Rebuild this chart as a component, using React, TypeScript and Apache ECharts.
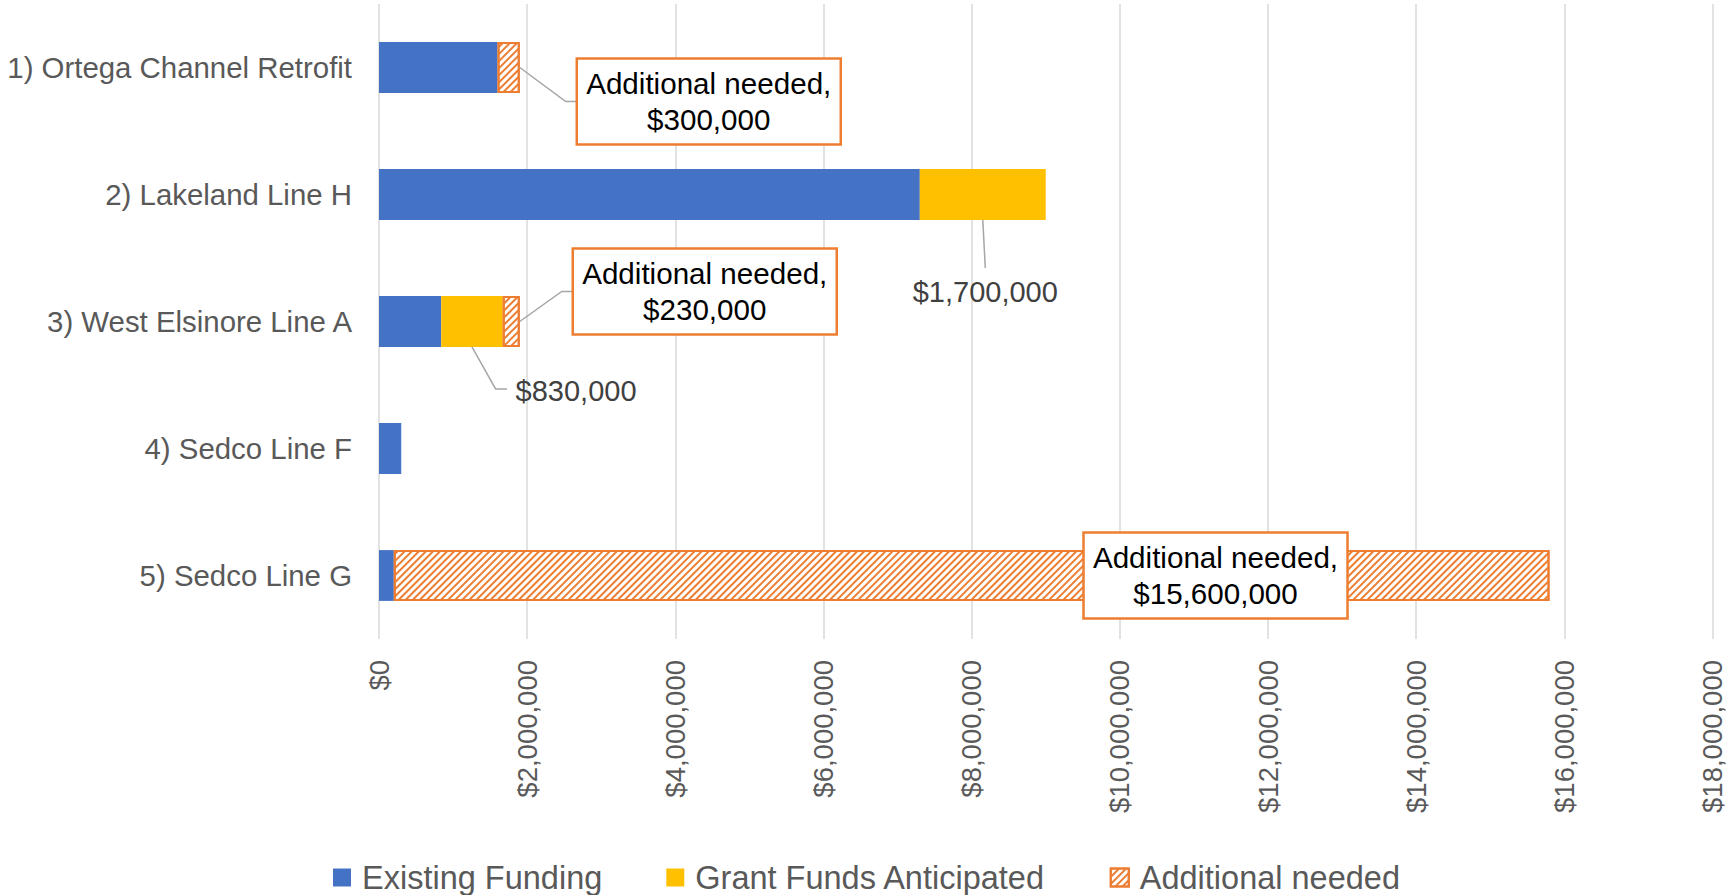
import React, { useEffect, useRef } from "react";
import * as echarts from "echarts";

const categories = [
  "1) Ortega Channel Retrofit",
  "2) Lakeland Line H",
  "3) West Elsinore Line A",
  "4) Sedco Line F",
  "5) Sedco Line G",
];
const existingFunding = [1600000, 7300000, 840000, 300000, 200000];
const grantFunds = [0, 1700000, 830000, 0, 0];
const additionalNeeded = [300000, 0, 230000, 0, 15600000];
const seriesNames = ["Existing Funding", "Grant Funds Anticipated", "Additional needed"];
const xMin = 0;
const xMax = 18000000;
const xInterval = 2000000;
const grantLabelRows = [1, 2];
const additionalLabelRows = [0, 2, 4];

// callout placement (pixel offsets from the anchor point on the bar)
const additionalCalloutLayout: Record<number, { dx: number; dy: number; leader: boolean }> = {
  0: { dx: 57, dy: 34, leader: true },
  2: { dx: 53, dy: -30, leader: true },
  4: { dx: -466, dy: 0, leader: false },
};
const grantCalloutLayout: Record<number, { ex: number; ey: number; hx: number; tx: number; ty: number; align: string }> = {
  1: { ex: 2.5, ey: 48, hx: 2.5, tx: 2.5, ty: 72, align: "center" },
  2: { ex: 23.6, ey: 42, hx: 35, tx: 43.6, ty: 44, align: "left" },
};

const FONT = "'Liberation Sans', Arial, sans-serif";
const BLUE = "#4472C4";
const YELLOW = "#FFC000";
const ORANGE = "#ED7D31";

const money = (v: number) => "$" + Math.round(v).toLocaleString("en-US");
const nz = (arr: number[]) => arr.map((v) => (v === 0 ? null : v));

export default function App() {
  const ref = useRef<HTMLDivElement>(null);
  useEffect(() => {
    document.body.style.margin = "0";
    if (!ref.current) return;
    const chart = echarts.init(ref.current, undefined, { renderer: "svg" });

    const calloutData: any[] = [];
    additionalLabelRows.forEach((r) => {
      calloutData.push({
        value: [existingFunding[r] + grantFunds[r] + additionalNeeded[r], r, additionalNeeded[r], 0],
      });
    });
    grantLabelRows.forEach((r) => {
      calloutData.push({
        value: [existingFunding[r] + grantFunds[r] / 2, r, grantFunds[r], 1],
      });
    });

    const option: any = {
      animation: false,
      textStyle: { fontFamily: FONT },
      grid: { left: 379, right: 20.5, top: 4, bottom: 256, containLabel: false },
      legend: {
        data: seriesNames,
        top: 856,
        left: "center",
        itemWidth: 18,
        itemHeight: 18,
        itemGap: 64,
        icon: "rect",
        selectedMode: false,
        textStyle: { fontSize: 32.5, color: "#595959", fontFamily: FONT, padding: [0, 0, 0, 6], lineHeight: 32 },
      },
      xAxis: {
        type: "value",
        min: xMin,
        max: xMax,
        interval: xInterval,
        axisLine: { show: false },
        axisTick: { show: false },
        splitLine: { show: true, lineStyle: { color: "#D9D9D9", width: 1.5 } },
        axisLabel: {
          rotate: 90,
          formatter: (v: number) => money(v),
          color: "#595959",
          fontSize: 27.5,
          fontFamily: FONT,
          margin: 21,
        },
      },
      yAxis: {
        type: "category",
        data: categories,
        inverse: true,
        axisLine: { show: false },
        axisTick: { show: false },
        axisLabel: { color: "#595959", fontSize: 29.4, fontFamily: FONT, margin: 27 },
      },
      series: [
        {
          name: seriesNames[0],
          type: "bar",
          stack: "total",
          barCategoryGap: "60%",
          itemStyle: { color: BLUE },
          data: nz(existingFunding),
        },
        {
          name: seriesNames[1],
          type: "bar",
          stack: "total",
          barCategoryGap: "60%",
          itemStyle: { color: YELLOW },
          data: nz(grantFunds),
        },
        {
          name: seriesNames[2],
          type: "bar",
          stack: "total",
          barCategoryGap: "60%",
          itemStyle: {
            color: "#FFFFFF",
            borderColor: ORANGE,
            borderWidth: 2,
            decal: {
              symbol: "rect",
              symbolSize: 1,
              dashArrayX: [1, 0],
              dashArrayY: [2, 3],
              rotation: -Math.PI / 4,
              color: ORANGE,
              backgroundColor: "#FFFFFF",
            },
          },
          data: nz(additionalNeeded),
        },
        {
          type: "custom",
          silent: true,
          z: 10,
          encode: { x: 0, y: 1 },
          data: calloutData,
          renderItem: (params: any, api: any) => {
            const xv = api.value(0);
            const row = api.value(1);
            const amount = api.value(2);
            const kind = api.value(3);
            const pt = api.coord([xv, row]);
            const band = api.size([0, 1])[1];
            const half = (band * 0.4) / 2;
            const children: any[] = [];
            if (kind === 0) {
              const L = additionalCalloutLayout[row];
              const bw = 264;
              const bh = 86;
              const bx = pt[0] + L.dx;
              const cy = pt[1] + L.dy;
              if (L.leader) {
                children.push({
                  type: "polyline",
                  shape: { points: [[pt[0], pt[1]], [bx - 11, cy], [bx, cy]] },
                  style: { stroke: "#A6A6A6", lineWidth: 1.5, fill: null },
                });
              }
              children.push({
                type: "rect",
                shape: { x: bx, y: cy - bh / 2, width: bw, height: bh },
                style: { fill: "#FFFFFF", stroke: ORANGE, lineWidth: 2.5 },
              });
              children.push({
                type: "text",
                style: {
                  x: bx + bw / 2,
                  y: cy,
                  text: "Additional needed,\n" + money(amount),
                  fill: "#000000",
                  fontSize: 29.6,
                  fontFamily: FONT,
                  lineHeight: 36,
                  align: "center",
                  verticalAlign: "middle",
                },
              });
            } else {
              const L = grantCalloutLayout[row];
              const ax = pt[0];
              const ay = pt[1] + half;
              children.push({
                type: "polyline",
                shape: { points: [[ax, ay], [ax + L.ex, ay + L.ey], [ax + L.hx, ay + L.ey]] },
                style: { stroke: "#A6A6A6", lineWidth: 1.5, fill: null },
              });
              children.push({
                type: "text",
                style: {
                  x: ax + L.tx,
                  y: ay + L.ty,
                  text: money(amount),
                  fill: "#404040",
                  fontSize: 29,
                  fontFamily: FONT,
                  align: L.align,
                  verticalAlign: "middle",
                },
              });
            }
            return { type: "group", children };
          },
        },
      ],
    };
    chart.setOption(option);
    return () => chart.dispose();
  }, []);
  return <div ref={ref} style={{ width: 1733, height: 895 }} />;
}
